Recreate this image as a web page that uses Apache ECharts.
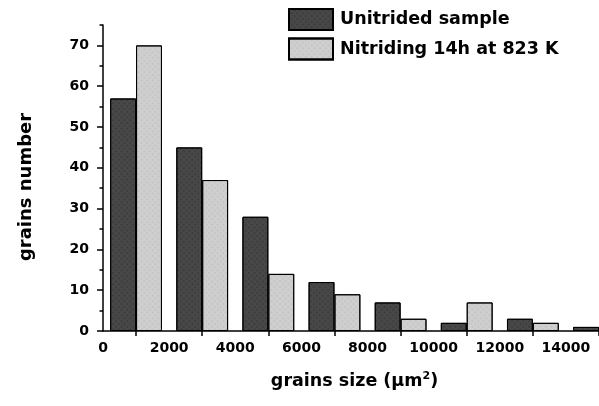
<!DOCTYPE html>
<html>
<head>
<meta charset="utf-8">
<script src="https://cdn.jsdelivr.net/npm/echarts@6/dist/echarts.min.js"></script>
<style>
  html, body { margin: 0; padding: 0; background: #fff; }
  #chart { width: 599px; height: 406px; }
</style>
</head>
<body>
<div id="chart"></div>
<script>
// Grain size histogram: bin centres (µm²) and grain counts per bin
const binCenters = [1000, 3000, 5000, 7000, 9000, 11000, 13000, 15000];
const unitrided  = [57, 45, 28, 12, 7, 2, 3, 1];
const nitrided   = [70, 37, 14, 9, 3, 7, 2];

const xLabelValues = [0, 2000, 4000, 6000, 8000, 10000, 12000, 14000];
const xTickValues  = [1000, 3000, 5000, 7000, 9000, 11000, 13000, 15000];
const yLabelValues = [0, 10, 20, 30, 40, 50, 60, 70];
const yMinorValues = [5, 15, 25, 35, 45, 55, 65, 75];

const seriesNames = ['Unitrided sample', 'Nitriding 14h at 823 K'];

const FONT = 'DejaVu Sans';
const X_MAX = 15000;
const GRID_LEFT = 103;
const GRID_WIDTH = 498;
const BAR_UNITS = 780; // each bar spans 780 µm² of the axis

const chart = echarts.init(document.getElementById('chart'), null, { renderer: 'canvas' });

const barPx = BAR_UNITS * GRID_WIDTH / X_MAX;

function pairs(values) {
  return values.map((v, i) => [binCenters[i], v]);
}

const plain = v => String(v);
const axisLine = { show: true, lineStyle: { color: '#000', width: 1.5 } };
const tickFont = { fontFamily: FONT, fontWeight: 'bold', fontSize: 14, color: '#000' };

chart.setOption({
  backgroundColor: '#fff',
  animation: false,
  grid: [{ left: GRID_LEFT, top: 25, width: GRID_WIDTH, bottom: 75 }],
  legend: {
    orient: 'vertical',
    left: 288,
    top: 8,
    padding: 0,
    icon: 'rect',
    itemWidth: 44,
    itemHeight: 21,
    itemGap: 6.5,
    textStyle: { fontFamily: FONT, fontWeight: 'bold', fontSize: 17.5, color: '#000', padding: [0, 0, 0, 2] },
    data: seriesNames
  },
  xAxis: {
    type: 'value',
    min: 0,
    max: X_MAX,
    interval: 1000,
    name: 'grains size (µm{sup|2})',
    nameLocation: 'middle',
    nameGap: 40,
    nameTextStyle: {
      fontFamily: FONT, fontWeight: 'bold', fontSize: 17.5, color: '#000',
      padding: [0, 0, 0, 7],
      rich: { sup: { fontFamily: FONT, fontWeight: 'bold', fontSize: 11, color: '#000', verticalAlign: 'top', padding: [0, 0, 10, 0] } }
    },
    axisLine: axisLine,
    axisTick: { show: true, customValues: xTickValues, length: 5, lineStyle: { color: '#000', width: 1.5 } },
    axisLabel: Object.assign({ customValues: xLabelValues, margin: 10, formatter: plain }, tickFont),
    splitLine: { show: false }
  },
  yAxis: [
    {
      type: 'value',
      min: 0,
      max: 75,
      interval: 10,
      name: 'grains number',
      nameLocation: 'middle',
      nameGap: 68,
      nameTextStyle: { fontFamily: FONT, fontWeight: 'bold', fontSize: 18, color: '#000', padding: [0, 18, 0, 0] },
      axisLine: axisLine,
      axisTick: { show: true, customValues: yLabelValues, length: 6, lineStyle: { color: '#000', width: 1.5 } },
      axisLabel: Object.assign({ customValues: yLabelValues, margin: 14, formatter: plain }, tickFont),
      splitLine: { show: false }
    },
    {
      // minor ticks every 5 grains, sharing the left axis position
      type: 'value',
      position: 'left',
      min: 0,
      max: 75,
      interval: 5,
      axisLine: { show: false },
      axisTick: { show: true, customValues: yMinorValues, length: 3.5, lineStyle: { color: '#000', width: 1.5 } },
      axisLabel: { show: false },
      splitLine: { show: false }
    }
  ],
  series: [
    {
      name: seriesNames[0],
      type: 'bar',
      barWidth: barPx,
      barGap: '0%',
      data: pairs(unitrided),
      itemStyle: {
        color: '#484848',
        borderColor: '#000',
        borderWidth: 1,
        decal: { symbol: 'rect', symbolSize: 0.6, color: 'rgba(15,15,15,0.6)', dashArrayX: [2, 2], dashArrayY: [2, 2], rotation: Math.PI / 4 }
      }
    },
    {
      name: seriesNames[1],
      type: 'bar',
      barWidth: barPx,
      barGap: '0%',
      data: pairs(nitrided),
      itemStyle: {
        color: '#cfcfcf',
        borderColor: '#000',
        borderWidth: 1,
        decal: { symbol: 'rect', symbolSize: 0.6, color: 'rgba(140,140,140,0.5)', dashArrayX: [2, 2], dashArrayY: [2, 2], rotation: Math.PI / 4 }
      }
    }
  ]
});
</script>
</body>
</html>
